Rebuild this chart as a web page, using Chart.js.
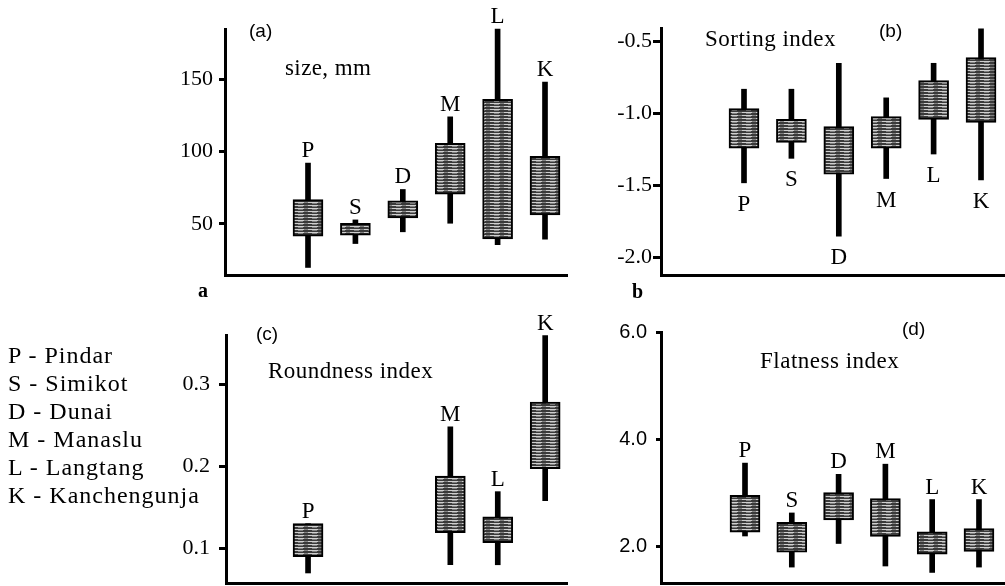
<!DOCTYPE html>
<html><head><meta charset="utf-8">
<script src="https://cdn.jsdelivr.net/npm/chart.js@4/dist/chart.umd.min.js"></script>
<style>
html,body{margin:0;padding:0;background:#fff;}
#wrap{position:relative;width:1005px;height:586px;overflow:hidden;background:#fff;}
canvas{position:absolute;left:0;top:0;}
.t{position:absolute;line-height:0;white-space:nowrap;color:#000;}
.serif{font-family:"Liberation Serif","Times New Roman",serif;}
.sans{font-family:"Liberation Sans",Arial,sans-serif;}
</style></head><body>
<div id="wrap">
<canvas id="cA" width="1005" height="586"></canvas>
<canvas id="cB" width="1005" height="586"></canvas>
<canvas id="cC" width="1005" height="586"></canvas>
<canvas id="cD" width="1005" height="586"></canvas>
</div>
<script>
// ---- data ----
const categories = ['P','S','D','M','L','K'];
const legendNames = ['P - Pindar','S - Simikot','D - Dunai','M - Manaslu','L - Langtang','K - Kanchengunja'];

// (a) size, mm
const sizeMin = [20, 36.5, 44.6, 50.5, 35.8, 39.5];
const sizeQ1  = [41.6, 42.3, 54.2, 70.5, 39.7, 56.3];
const sizeQ3  = [66.8, 50.5, 66.0, 105.7, 136.0, 96.6];
const sizeMax = [92, 52.8, 73.8, 123.9, 184.4, 147.9];
const sizeTicks = [50, 100, 150];
const sizeTickLabels = ['50', '100', '150'];

// (b) sorting index
const sortMin = [-1.48, -1.31, -1.85, -1.45, -1.28, -1.46];
const sortQ1  = [-1.24, -1.20, -1.42, -1.24, -1.04, -1.06];
const sortQ3  = [-0.965, -1.04, -1.09, -1.02, -0.77, -0.61];
const sortMax = [-0.83, -0.83, -0.65, -0.89, -0.65, -0.41];
const sortTicks = [-0.5, -1.0, -1.5, -2.0];
const sortTickLabels = ['-0.5', '-1.0', '-1.5', '-2.0'];

// (c) roundness index
const roundMin = [0.07, null, null, 0.08, 0.08, 0.158];
const roundQ1  = [0.09, null, null, 0.119, 0.107, 0.197];
const roundQ3  = [0.13, null, null, 0.188, 0.1385, 0.278];
const roundMax = [0.13, null, null, 0.248, 0.169, 0.359];
const roundTicks = [0.1, 0.2, 0.3];
const roundTickLabels = ['0.1', '0.2', '0.3'];

// (d) flatness index
const flatMin = [2.20, 1.62, 2.06, 1.64, 1.52, 1.62];
const flatQ1  = [2.27, 1.90, 2.50, 2.19, 1.86, 1.91];
const flatQ3  = [2.96, 2.455, 3.01, 2.90, 2.28, 2.34];
const flatMax = [3.56, 2.63, 3.35, 3.54, 2.88, 2.88];
const flatTicks = [2, 4, 6];
const flatTickLabels = ['2.0', '4.0', '6.0'];

// ---- texture for boxes (dark with light horizontal streaks) ----
const patCanvas = document.createElement('canvas');
patCanvas.width = 14; patCanvas.height = 3;
(function(){
  const g = patCanvas.getContext('2d');
  g.fillStyle = '#3a3a3a'; g.fillRect(0,0,14,3);
  g.fillStyle = '#cfcfcf'; g.fillRect(0,1,10,1);
  g.fillStyle = '#808080'; g.fillRect(10,1,4,1); g.fillRect(4,2,5,1);
})();

const SERIF = '"Liberation Serif","Times New Roman",serif';
const SANS = '"Liberation Sans",Arial,sans-serif';

const letterLabels = {
  id: 'letterLabels',
  afterDatasetsDraw(chart, args, opts) {
    const {ctx} = chart;
    const xs = chart.scales.x, ys = chart.scales.y;
    ctx.save();
    ctx.font = '23px ' + SERIF;
    ctx.fillStyle = '#000';
    ctx.textAlign = 'center';
    ctx.textBaseline = 'alphabetic';
    categories.forEach((c, i) => {
      if (opts.max[i] == null) return;
      const px = xs.getPixelForValue(i);
      let py;
      if (opts.place === 'below') py = ys.getPixelForValue(opts.min[i]) + 28;
      else py = ys.getPixelForValue(opts.max[i]) - 6;
      ctx.fillText(c, px, py);
    });
    ctx.restore();
  }
};

function panel(id, cfg) {
  const ctx = document.getElementById(id).getContext('2d');
  const pat = ctx.createPattern(patCanvas, 'repeat');
  const boxes = [], whisk = [];
  categories.forEach((c, i) => {
    if (cfg.q1[i] == null) return;
    boxes.push({x: i, y: [cfg.q1[i], cfg.q3[i]]});
    whisk.push({x: i, y: [cfg.min[i], cfg.max[i]]});
  });
  const YW = 60;
  return new Chart(ctx, {
    type: 'bar',
    data: {datasets: [
      {data: boxes, backgroundColor: pat, borderColor: '#000', borderWidth: 2, borderSkipped: false,
       barThickness: 30, grouped: false, clip: false, order: 0},
      {data: whisk, backgroundColor: '#000', borderWidth: 0, barThickness: 5, grouped: false, clip: false, order: 1}
    ]},
    options: {
      responsive: false, animation: false, events: [],
      layout: {autoPadding: false, padding: {left: cfg.left - YW, right: 1005 - cfg.right, top: cfg.top, bottom: 586 - cfg.bottom}},
      plugins: {legend: {display: false}, tooltip: {enabled: false},
        letterLabels: {min: cfg.min, max: cfg.max, place: cfg.place}},
      scales: {
        x: {type: 'linear', offset: false, min: cfg.xmin, max: cfg.xmax,
            grid: {display: false}, ticks: {display: false},
            border: {display: true, color: '#000', width: 3},
            afterFit: s => { s.height = 0; s.paddingLeft = 0; s.paddingRight = 0; }},
        y: {type: 'linear', beginAtZero: false, bounds: 'data', min: cfg.ymin, max: cfg.ymax,
            afterBuildTicks: s => { s.ticks = cfg.ticks.map(v => ({value: v})); },
            ticks: {callback: (v, i) => cfg.tickLabels[i], color: '#000',
                    font: {family: cfg.tfont, size: cfg.tsize}, padding: cfg.tpad},
            grid: {display: true, drawOnChartArea: false, drawTicks: true, tickLength: cfg.tlen, color: '#000', lineWidth: 3},
            border: {display: true, color: '#000', width: 3},
            afterFit: s => { s.width = YW; s.paddingTop = 0; s.paddingBottom = 0; }}
      }
    },
    plugins: [letterLabels]
  });
}

panel('cA', {min: sizeMin, q1: sizeQ1, q3: sizeQ3, max: sizeMax, ticks: sizeTicks, tickLabels: sizeTickLabels,
  left: 225, right: 567, top: 29, bottom: 275, xmin: -1.751, xmax: 5.464, ymin: 14.8, ymax: 184.5,
  tfont: SERIF, tsize: 22, tpad: 6, tlen: 6, place: 'above'});
panel('cB', {min: sortMin, q1: sortQ1, q3: sortQ3, max: sortMax, ticks: sortTicks, tickLabels: sortTickLabels,
  left: 661, right: 1005, top: 28, bottom: 275, xmin: -1.751, xmax: 5.506, ymin: -2.120, ymax: -0.405,
  tfont: SERIF, tsize: 22, tpad: 1, tlen: 8, place: 'below'});
panel('cC', {min: roundMin, q1: roundQ1, q3: roundQ3, max: roundMax, ticks: roundTicks, tickLabels: roundTickLabels,
  left: 226, right: 567, top: 335, bottom: 583, xmin: -1.73, xmax: 5.46, ymin: 0.0578, ymax: 0.3597,
  tfont: SERIF, tsize: 22, tpad: 9, tlen: 7, place: 'above'});
panel('cD', {min: flatMin, q1: flatQ1, q3: flatQ3, max: flatMax, ticks: flatTicks, tickLabels: flatTickLabels,
  left: 661, right: 1005, top: 332, bottom: 583, xmin: -1.795, xmax: 5.556, ymin: 1.323, ymax: 6.006,
  tfont: SANS, tsize: 20, tpad: 9, tlen: 5, place: 'above'});

// ---- text annotations ----
const wrap = document.getElementById('wrap');
function addText(txt, x, baseline, size, family, extra) {
  const d = document.createElement('div');
  d.className = 't ' + family;
  d.textContent = txt;
  const k = family === 'sans' ? 0.3465 : 0.3375;
  d.style.left = x + 'px';
  d.style.top = (baseline - k * size) + 'px';
  d.style.fontSize = size + 'px';
  if (extra) Object.assign(d.style, extra);
  wrap.appendChild(d);
}
addText('(a)', 249, 38, 19, 'sans');
addText('size, mm', 285, 76, 23, 'serif', {letterSpacing: '0.4px'});
addText('(b)', 879, 38, 19, 'sans');
addText('Sorting index', 705, 46.5, 23, 'serif', {letterSpacing: '0.5px'});
addText('(c)', 256, 341, 19, 'sans');
addText('Roundness index', 268, 379, 23, 'serif', {letterSpacing: '0.5px'});
addText('(d)', 902, 336, 19, 'sans');
addText('Flatness index', 760, 369, 23, 'serif', {letterSpacing: '0.5px'});
addText('a', 198, 297, 20, 'serif', {fontWeight: 'bold'});
addText('b', 632, 298, 20, 'serif', {fontWeight: 'bold'});
legendNames.forEach((n, i) => addText(n, 8, 363 + i * 28.1, 24, 'serif', {letterSpacing: '1px'}));
</script>
</body></html>
